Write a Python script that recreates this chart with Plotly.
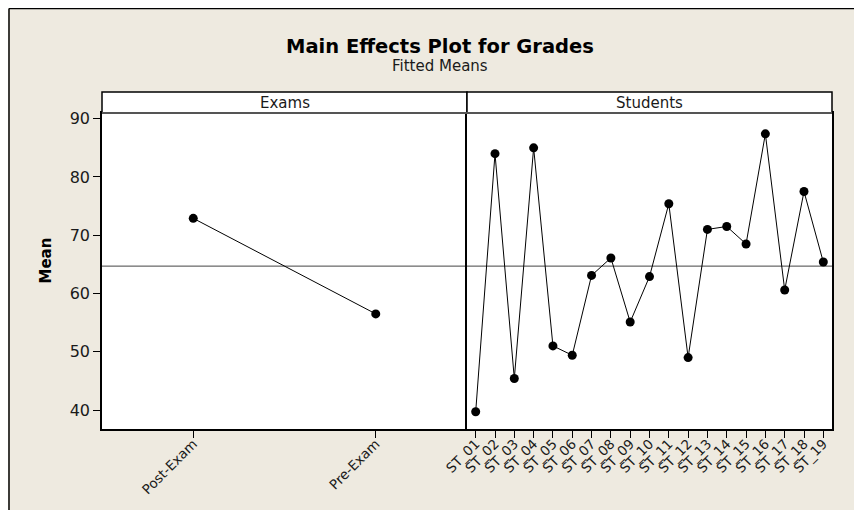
import plotly.graph_objects as go

# ---- data ----
exam_levels = ["Post-Exam", "Pre-Exam"]
exam_means = [72.9, 56.5]
students = ["ST_01", "ST_02", "ST_03", "ST_04", "ST_05", "ST_06", "ST_07", "ST_08",
            "ST_09", "ST_10", "ST_11", "ST_12", "ST_13", "ST_14", "ST_15", "ST_16",
            "ST_17", "ST_18", "ST_19"]
student_means = [39.7, 84.0, 45.4, 85.0, 51.0, 49.4, 63.1, 66.1, 55.1, 62.9,
                 75.4, 49.0, 71.0, 71.5, 68.5, 87.4, 60.6, 77.5, 65.4]
grand_mean = 64.7
y_ticks = [40, 50, 60, 70, 80, 90]

# page body adds an 8px offset; work in target-image pixel coordinates
OFF = 8
W, H = 862, 510
PL, PR, PT, PB = 102, 832, 113, 429          # plot area in image pixels
L = PL - OFF
T = PT - OFF
R = W - (PR - OFF)
B = H - (PB - OFF)
PW, PH = PR - PL, PB - PT


def px(xp):
    return (xp - PL) / PW


def py(yp):
    return (PB - yp) / PH


BG = "#EEEAE0"
FONT = "DejaVu Sans"
TXT = "#1a1a1a"

fig = go.Figure()
marker = dict(color="black", size=9)
line = dict(color="black", width=1)
fig.add_trace(go.Scatter(x=exam_levels, y=exam_means, mode="lines+markers",
                         marker=marker, line=line, xaxis="x", yaxis="y",
                         showlegend=False, hoverinfo="x+y"))
fig.add_trace(go.Scatter(x=students, y=student_means, mode="lines+markers",
                         marker=marker, line=line, xaxis="x2", yaxis="y2",
                         showlegend=False, hoverinfo="x+y"))

yr = [36.74, 90.98]
common_x = dict(showline=True, linecolor="black", linewidth=1.5, mirror=True,
                ticks="outside", ticklen=7, tickcolor="black", tickwidth=1,
                tickangle=-45, showgrid=False, zeroline=False,
                tickfont=dict(family=FONT, size=13.5, color=TXT), type="category",
                tickmode="array", ticklabelstandoff=-7)
fig.update_layout(
    width=W, height=H,
    margin=dict(l=L, r=R, t=T, b=B),
    paper_bgcolor=BG, plot_bgcolor="white",
    showlegend=False,
    xaxis=dict(domain=[0, 0.5], anchor="y", range=[-0.5, 1.5],
               tickvals=exam_levels, ticktext=exam_levels, **common_x),
    xaxis2=dict(domain=[0.5, 1], anchor="y2", range=[-0.45, 18.45],
                tickvals=students, ticktext=students, **common_x),
    yaxis=dict(domain=[0, 1], anchor="x", range=yr, tickvals=y_ticks,
               showline=True, linecolor="black", linewidth=1.5, mirror=False,
               ticks="outside", ticklen=7, tickcolor="black", showgrid=False,
               zeroline=False, tickfont=dict(family=FONT, size=16, color=TXT)),
    yaxis2=dict(domain=[0, 1], anchor="x2", range=yr, tickvals=y_ticks,
                showline=True, linecolor="black", linewidth=1.5, mirror=True,
                ticks="", showticklabels=False, showgrid=False, zeroline=False),
)

shapes = []
# reference line (grand mean)
for xa, ya in (("x", "y"), ("x2", "y2")):
    shapes.append(dict(type="line", xref=f"{xa} domain", yref=ya, x0=0, x1=1,
                       y0=grand_mean, y1=grand_mean, layer="below",
                       line=dict(color="#444444", width=1)))
# panel strips
strip_top = py(92)
for x0, x1 in ((0, 0.5), (0.5, 1)):
    shapes.append(dict(type="rect", xref="paper", yref="paper", x0=x0, x1=x1,
                       y0=1, y1=strip_top, fillcolor="white",
                       line=dict(color="black", width=1.5)))
shapes.append(dict(type="line", xref="paper", yref="paper", x0=0, x1=1, y0=1, y1=1,
                   line=dict(color="#555555", width=2)))
# outer frame (top and left edges of the graph window)
shapes.append(dict(type="line", xref="paper", yref="paper", x0=px(9), x1=px(W + 20),
                   y0=py(8.5), y1=py(8.5), line=dict(color="black", width=1.5)))
shapes.append(dict(type="line", xref="paper", yref="paper", x0=px(9), x1=px(9),
                   y0=py(8.5), y1=py(H + 20), line=dict(color="black", width=1.5)))
fig.update_layout(shapes=shapes)

ann = []
ann.append(dict(text="<b>Main Effects Plot for Grades</b>", xref="paper", yref="paper",
                x=px(440), y=py(46), showarrow=False, xanchor="center", yanchor="middle",
                font=dict(family=FONT, size=19.5, color="black")))
ann.append(dict(text="Fitted Means", xref="paper", yref="paper",
                x=px(440), y=py(66), showarrow=False, xanchor="center", yanchor="middle",
                font=dict(family=FONT, size=15, color=TXT)))
ann.append(dict(text="Exams", xref="paper", yref="paper", x=0.25, y=py(102.5),
                showarrow=False, xanchor="center", yanchor="middle",
                font=dict(family=FONT, size=15, color=TXT)))
ann.append(dict(text="Students", xref="paper", yref="paper", x=0.75, y=py(102.5),
                showarrow=False, xanchor="center", yanchor="middle",
                font=dict(family=FONT, size=15, color=TXT)))
ann.append(dict(text="<b>Mean</b>", xref="paper", yref="paper", x=px(45), y=py(260.5),
                showarrow=False, xanchor="center", yanchor="middle", textangle=-90,
                font=dict(family=FONT, size=15, color="black")))
fig.update_layout(annotations=ann)

fig.write_html("out.html",
               post_script="document.body.style.overflow='hidden';")
